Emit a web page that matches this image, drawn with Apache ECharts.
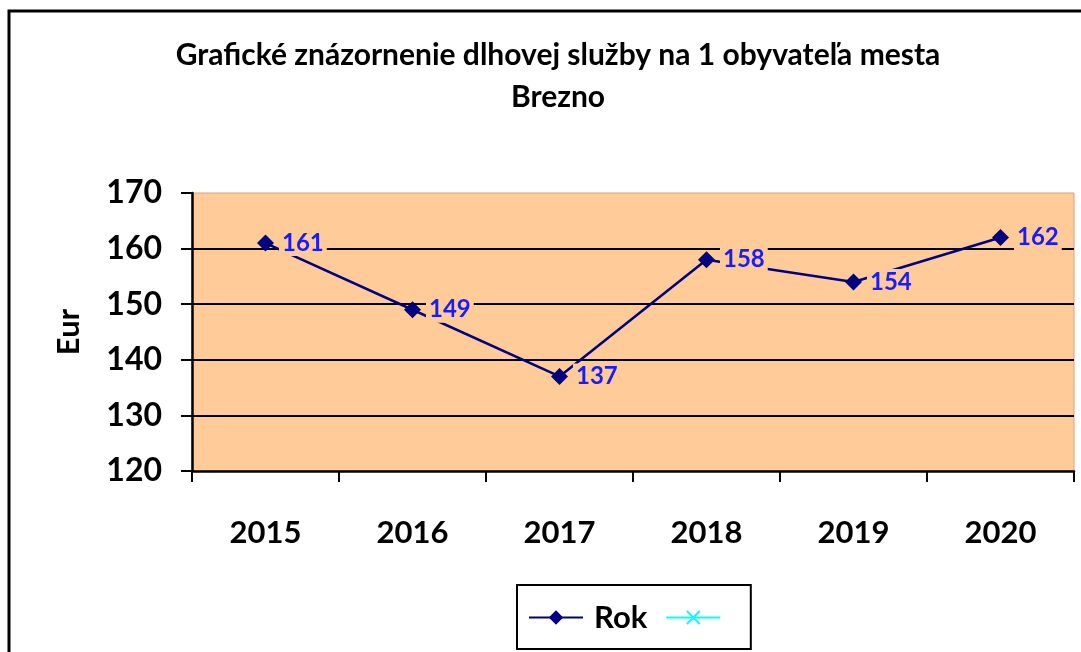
<!DOCTYPE html>
<html>
<head>
    <meta charset="utf-8"/>
    <title>Brezno</title>
    <script src="https://cdn.jsdelivr.net/npm/echarts@6/dist/echarts.min.js"></script>
    <style>
        html, body { margin: 0; padding: 0; background: #fff; }
        #main { width: 1081px; height: 652px; }
    </style>
</head>
<body>
<div id="main"></div>
<script>
    // data
    var years = ['2015', '2016', '2017', '2018', '2019', '2020'];
    var rokValues = [161, 149, 137, 158, 154, 162];
    var emptyValues = [];
    var yTicks = { min: 120, max: 170, step: 10 };

    var FONT = 'Lato';
    var chart = echarts.init(document.getElementById('main'));

    var option = {
        backgroundColor: '#ffffff',
        animation: false,
        title: {
            text: 'Grafické znázornenie dlhovej služby na 1 obyvateľa mesta\nBrezno',
            left: 553,
            textAlign: 'center',
            top: 29,
            textStyle: {
                fontFamily: FONT,
                fontWeight: 'bold',
                fontSize: 30,
                lineHeight: 42,
                color: '#000'
            }
        },
        graphic: [{
            type: 'rect',
            shape: { x: 9, y: 11, width: 1200, height: 800 },
            style: { fill: 'none', stroke: '#000', lineWidth: 3 },
            silent: true,
            z: 100
        }],
        legend: {
            left: 517,
            top: 585,
            width: 230,
            height: 63,
            padding: [17, 12, 16, 11],
            itemWidth: 54,
            itemHeight: 18,
            itemGap: 18,
            borderColor: '#000',
            borderWidth: 2,
            textStyle: {
                fontFamily: FONT,
                fontWeight: 'bold',
                fontSize: 31,
                color: '#000',
                padding: [0, 0, 0, 6]
            },
            data: ['Rok', ' ']
        },
        grid: {
            left: 192,
            right: 7,
            top: 193,
            bottom: 181,
            show: true,
            backgroundColor: '#FFCC99',
            borderColor: '#d6a47a',
            borderWidth: 1,
            containLabel: false
        },
        xAxis: {
            type: 'category',
            data: years,
            boundaryGap: true,
            axisLine: { lineStyle: { color: '#000', width: 2.5 } },
            axisTick: { show: true, length: 11, lineStyle: { color: '#000', width: 2 } },
            axisLabel: {
                margin: 46,
                fontFamily: FONT,
                fontWeight: 'bold',
                fontSize: 31,
                color: '#000'
            }
        },
        yAxis: {
            type: 'value',
            min: yTicks.min,
            max: yTicks.max,
            interval: yTicks.step,
            name: 'Eur',
            nameLocation: 'middle',
            nameGap: 108,
            nameTextStyle: {
                fontFamily: FONT,
                fontWeight: 'bold',
                fontSize: 31,
                color: '#000'
            },
            axisLine: { show: true, lineStyle: { color: '#000', width: 2.5 } },
            axisTick: { show: true, length: 11, lineStyle: { color: '#000', width: 2 } },
            axisLabel: {
                margin: 30,
                fontFamily: FONT,
                fontWeight: 'bold',
                fontSize: 32,
                color: '#000'
            },
            splitLine: {
                show: true,
                showMinLine: false,
                showMaxLine: false,
                lineStyle: { color: '#000', width: 2 }
            }
        },
        series: [{
            name: 'Rok',
            type: 'line',
            data: rokValues,
            symbol: 'diamond',
            symbolSize: 17,
            color: '#000080',
            lineStyle: { color: '#000080', width: 2.5 },
            itemStyle: { color: '#000080' },
            label: {
                show: true,
                position: 'right',
                distance: 5,
                backgroundColor: '#FFCC99',
                padding: [2, 3, 0, 3],
                fontFamily: FONT,
                fontWeight: 'bold',
                fontSize: 24,
                color: '#1a1aff'
            },
            z: 3
        }, {
            name: ' ',
            type: 'line',
            data: emptyValues,
            symbol: 'path://M0,1L1,0L5,4L9,0L10,1L6,5L10,9L9,10L5,6L1,10L0,9L4,5Z',
            symbolSize: 14,
            color: '#00ffff',
            lineStyle: { color: '#00ffff', width: 2.5 },
            itemStyle: { color: '#00ffff' }
        }]
    };

    chart.setOption(option);
</script>
</body>
</html>
